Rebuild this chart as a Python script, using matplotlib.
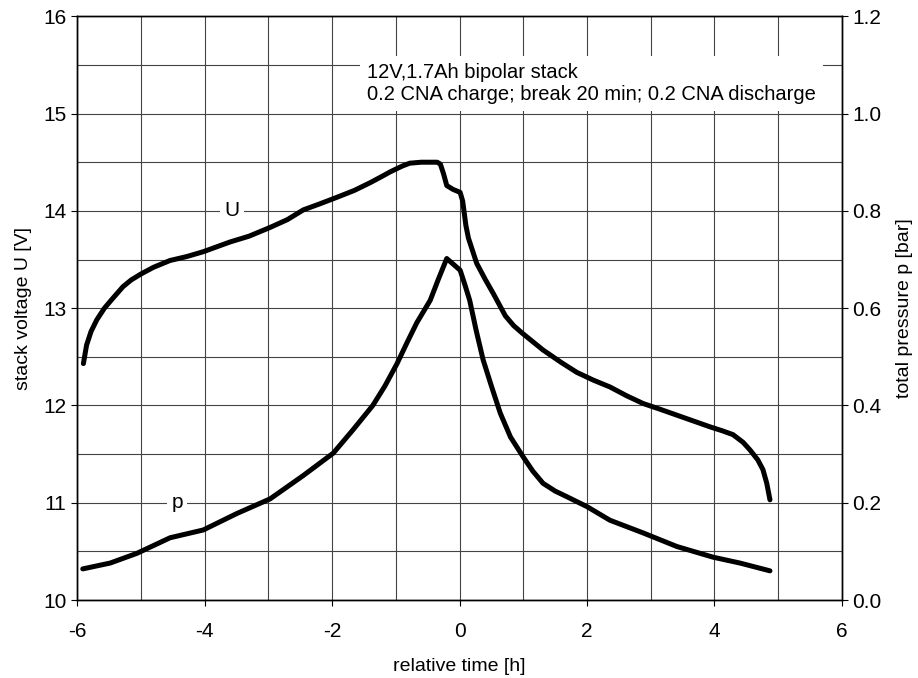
import numpy as np
import matplotlib
matplotlib.use("Agg")
import matplotlib.pyplot as plt
from matplotlib.ticker import MultipleLocator, FormatStrFormatter

plt.rcParams['font.family'] = ['Liberation Sans', 'DejaVu Sans']
plt.rcParams['axes.unicode_minus'] = False

# stack voltage U [V] vs relative time [h]
t_u = [-5.90, -5.85, -5.78, -5.69, -5.57, -5.44, -5.28, -5.15, -5.00, -4.80,
       -4.54, -4.28, -4.02, -3.60, -3.30, -2.97, -2.70, -2.45, -2.20, -1.92,
       -1.65, -1.40, -1.20, -1.09, -0.90, -0.78, -0.60, -0.35, -0.30, -0.25,
       -0.20, -0.10, 0.01, 0.05, 0.10, 0.14, 0.27, 0.40, 0.53, 0.72, 0.85,
       0.99, 1.31, 1.60, 1.84, 2.10, 2.36, 2.62, 2.88, 3.15, 3.41, 3.67, 3.93,
       4.12, 4.29, 4.45, 4.56, 4.68, 4.76, 4.82, 4.87]
u = [12.43, 12.62, 12.76, 12.88, 13.00, 13.10, 13.22, 13.29, 13.35, 13.42,
     13.49, 13.53, 13.58, 13.68, 13.74, 13.83, 13.91, 14.01, 14.07, 14.14,
     14.21, 14.29, 14.36, 14.40, 14.46, 14.49, 14.50, 14.50, 14.48, 14.38,
     14.26, 14.22, 14.19, 14.10, 13.85, 13.72, 13.46, 13.30, 13.15, 12.92, 12.82,
     12.74, 12.57, 12.44, 12.34, 12.26, 12.19, 12.10, 12.02, 11.96, 11.90, 11.84, 11.78,
     11.74, 11.70, 11.62, 11.54, 11.44, 11.34, 11.20, 11.03]

# total pressure p [bar]
t_p = [-5.91, -5.48, -5.06, -4.54, -4.02, -3.49, -2.97, -2.45, -1.98, -1.67,
       -1.36, -1.17, -0.98, -0.82, -0.67, -0.46, -0.33, -0.20, 0.01, 0.08,
       0.16, 0.26, 0.37, 0.50, 0.64, 0.80, 1.00, 1.15, 1.31, 1.50, 1.69,
       2.00, 2.36, 2.88, 3.41, 3.98, 4.40, 4.87]
p = [0.064, 0.076, 0.096, 0.128, 0.144, 0.178, 0.208, 0.256, 0.302, 0.350,
     0.400, 0.440, 0.486, 0.530, 0.570, 0.616, 0.660, 0.702, 0.678, 0.650,
     0.616, 0.555, 0.494, 0.440, 0.384, 0.335, 0.294, 0.265, 0.240, 0.224, 0.212,
     0.192, 0.164, 0.138, 0.110, 0.088, 0.076, 0.060]

fig = plt.figure(figsize=(9.18, 6.78), dpi=100)
ax = fig.add_axes([0.0839, 0.115, 0.8333, 0.861])
ax2 = ax.twinx()

ax.set_xlim(-6, 6)
ax.set_ylim(10, 16)
ax2.set_ylim(0, 1.2)

ax.xaxis.set_major_locator(MultipleLocator(2))
ax.xaxis.set_minor_locator(MultipleLocator(1))
ax.yaxis.set_major_locator(MultipleLocator(1))
ax.yaxis.set_minor_locator(MultipleLocator(0.5))
ax2.yaxis.set_major_locator(MultipleLocator(0.2))
ax2.yaxis.set_major_formatter(FormatStrFormatter('%.1f'))

ax.grid(True, which='both', color='#444444', linewidth=0.8)
ax.set_axisbelow(True)

ax.tick_params(which='major', direction='out', length=4, labelsize=15, width=0.8)
ax.tick_params(axis='x', which='major', pad=12)
ax.tick_params(which='minor', length=0)
ax2.tick_params(direction='out', length=4, labelsize=15, width=0.8)

for a in (ax, ax2):
    for s in a.spines.values():
        s.set_linewidth(1.0)
        s.set_color('black')

ax.plot(t_u, u, color='black', linewidth=3.6, solid_capstyle='round',
        solid_joinstyle='round', zorder=3)
ax2.plot(t_p, p, color='black', linewidth=3.6, solid_capstyle='round',
         solid_joinstyle='round', zorder=3)

ax.set_xlabel('relative time [h]', fontsize=14, labelpad=12)
ax.set_ylabel('stack voltage U [V]', fontsize=14, labelpad=8)
ax2.set_ylabel('total pressure p [bar]', fontsize=14, labelpad=10)

ax.text(-1.45, 15.31, '12V,1.7Ah bipolar stack\n0.2 CNA charge; break 20 min; 0.2 CNA discharge',
        fontsize=14.5, va='center', ha='left', linespacing=1.25, zorder=5,
        bbox=dict(facecolor='white', edgecolor='none', pad=5))
ax.text(-3.57, 14.0, 'U', fontsize=15, ha='center', va='center', zorder=5,
        bbox=dict(facecolor='white', edgecolor='none', pad=3))
ax.text(-4.43, 11.0, 'p', fontsize=15, ha='center', va='center', zorder=5,
        bbox=dict(facecolor='white', edgecolor='none', pad=3))

fig.savefig('out.png', dpi=100)
